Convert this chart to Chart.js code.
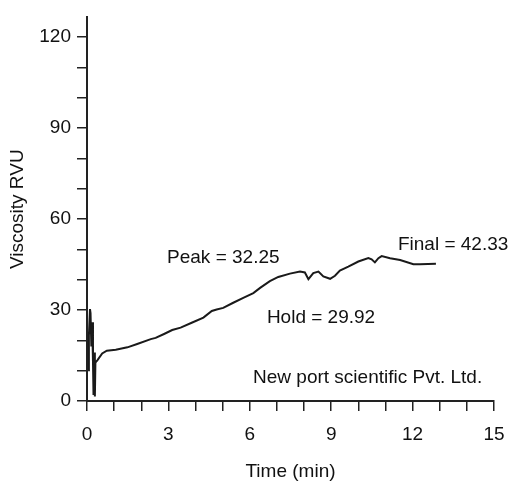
<!DOCTYPE html>
<html>
<head>
<meta charset="utf-8">
<script src="https://cdn.jsdelivr.net/npm/chart.js@4/dist/chart.umd.min.js"></script>
<style>
  html, body { margin: 0; padding: 0; background: #ffffff; }
  #wrap { width: 510px; height: 481px; }
</style>
</head>
<body>
<div id="wrap"><canvas id="c" width="510" height="481"></canvas></div>
<script>
// ---- data ----
const timeMin = [0.04, 0.07, 0.11, 0.13, 0.16, 0.19, 0.22, 0.24, 0.26, 0.29, 0.31, 0.38, 0.56, 0.73, 1.06, 1.49, 1.85, 2.35, 2.53, 2.84, 3.14, 3.45, 3.88, 4.29, 4.60, 4.78, 5.02, 5.39, 5.76, 6.13, 6.38, 6.74, 7.05, 7.48, 7.85, 8.03, 8.16, 8.34, 8.53, 8.71, 8.96, 9.14, 9.32, 9.63, 10.00, 10.37, 10.49, 10.61, 10.74, 10.86, 11.17, 11.54, 12.03, 12.27, 12.86];
const viscosityRVU = [10.1, 21.5, 30.3, 29.0, 18.0, 26.0, 13.0, 2.0, 16.0, 1.5, 12.7, 13.4, 15.7, 16.6, 16.9, 17.7, 18.8, 20.4, 20.8, 22.1, 23.4, 24.2, 25.9, 27.5, 29.7, 30.2, 30.7, 32.4, 34.0, 35.6, 37.3, 39.5, 40.9, 42.0, 42.7, 42.4, 40.2, 42.2, 42.7, 41.1, 40.3, 41.3, 43.0, 44.3, 46.0, 47.1, 46.7, 45.7, 47.1, 47.8, 47.1, 46.5, 45.1, 45.1, 45.3];
const yTickLabels = [0, 30, 60, 90, 120];
const xTickLabels = [0, 3, 6, 9, 12, 15];
const annotationTexts = ['Peak = 32.25', 'Hold = 29.92', 'Final = 42.33', 'New port scientific Pvt. Ltd.'];
const annotationX = [2.95, 6.63, 11.46, 6.12];
const annotationY = [47.3, 27.4, 51.5, 7.8];

const FONT = "'Liberation Sans', Arial, sans-serif";
const INK = '#111111';

const textPlugin = {
  id: 'notes',
  afterDatasetsDraw(chart) {
    const ctx = chart.ctx;
    const xs = chart.scales.x, ys = chart.scales.y;
    ctx.save();
    ctx.font = '19px ' + FONT;
    ctx.fillStyle = INK;
    ctx.textAlign = 'left';
    ctx.textBaseline = 'middle';
    annotationTexts.forEach((t, i) => {
      ctx.fillText(t, xs.getPixelForValue(annotationX[i]), ys.getPixelForValue(annotationY[i]));
    });
    ctx.restore();
  }
};

new Chart(document.getElementById('c'), {
  type: 'line',
  data: {
    datasets: [{
      data: timeMin.map((t, i) => ({ x: t, y: viscosityRVU[i] })),
      borderColor: '#1a1a1a',
      borderWidth: 2,
      pointRadius: 0,
      tension: 0,
      fill: false
    }]
  },
  options: {
    responsive: false,
    animation: false,
    devicePixelRatio: 1,
    layout: { padding: { top: 13, right: 16, left: 0, bottom: 0 } },
    plugins: { legend: { display: false }, tooltip: { enabled: false } },
    scales: {
      x: {
        type: 'linear',
        position: 'bottom',
        min: 0,
        max: 15,
        afterFit(scale) { scale.height = 80; scale.paddingLeft = 0; scale.paddingRight = 0; },
        ticks: {
          stepSize: 1,
          autoSkip: false,
          maxRotation: 0,
          padding: 12,
          color: INK,
          font: { family: FONT, size: 19 },
          callback: (v) => xTickLabels.includes(Math.round(v * 1000) / 1000) ? String(Math.round(v)) : ''
        },
        grid: { drawOnChartArea: false, drawTicks: true, tickLength: 10, color: '#222222', lineWidth: 1.5 },
        border: { display: true, color: '#222222', width: 2 },
        title: {
          display: true,
          text: 'Time (min)',
          color: INK,
          font: { family: FONT, size: 19, lineHeight: 1 },
          padding: { top: 0, bottom: 0 }
        }
      },
      y: {
        type: 'linear',
        min: 0,
        max: 126.5,
        afterFit(scale) { scale.width = 87; },
        afterBuildTicks(scale) {
          scale.ticks = scale.ticks
            .filter(t => Math.abs(t.value / 10 - Math.round(t.value / 10)) < 1e-6)
            .map(t => ({ value: Math.round(t.value) }));
        },
        ticks: {
          stepSize: 10,
          includeBounds: false,
          autoSkip: false,
          padding: 6,
          color: INK,
          font: { family: FONT, size: 19 },
          callback: (v) => yTickLabels.includes(Math.round(v)) ? String(Math.round(v)) : ''
        },
        grid: { drawOnChartArea: false, drawTicks: true, tickLength: 10, color: '#222222', lineWidth: 1.5 },
        border: { display: true, color: '#222222', width: 2 },
        title: {
          display: true,
          text: 'Viscosity RVU',
          color: INK,
          font: { family: FONT, size: 19, lineHeight: 1 },
          padding: { top: 8, bottom: 0 }
        }
      }
    }
  },
  plugins: [textPlugin]
});
</script>
</body>
</html>
